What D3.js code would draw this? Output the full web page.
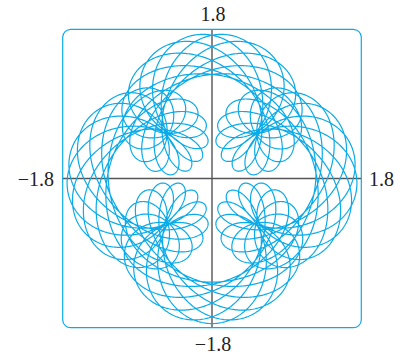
<!DOCTYPE html>
<html>
<head>
<meta charset="utf-8">
<script src="https://cdn.jsdelivr.net/npm/d3@7"></script>
<style>
  body { margin: 0; background: #fff; }
  svg { display: block; }
  text { font-family: 'Liberation Serif', 'Times New Roman', Times, serif; }
</style>
</head>
<body>
<svg id="chart" width="409" height="359"></svg>
<script>
// curve: x = sin t + 1/2 sin 5t + 1/4 cos 2.3t
//        y = cos t + 1/2 cos 5t + 1/4 sin 2.3t
const xAmp = [1, 0.5, 0.25];
const xFreq = [1, 5, 2.3];
const xFn = ['sin', 'sin', 'cos'];
const yAmp = [1, 0.5, 0.25];
const yFreq = [1, 5, 2.3];
const yFn = ['cos', 'cos', 'sin'];
const tRange = [0, 20 * Math.PI];
const steps = 12000;

const viewRange = [-1.8, 1.8];
const tickLabels = ['\u22121.8', '1.8'];

const svg = d3.select('#chart');

const x = d3.scaleLinear().domain(viewRange).range([62.7, 361.3]);
const y = d3.scaleLinear().domain(viewRange).range([327.7, 29.3]);

const curveColor = '#0aabe8';

// sample the parametric curve
const ts = d3.range(steps + 1).map(i => tRange[0] + (tRange[1] - tRange[0]) * i / steps);
const pts = ts.map(t => {
  let px = 0, py = 0;
  for (let k = 0; k < xAmp.length; k++) px += xAmp[k] * Math[xFn[k]](xFreq[k] * t);
  for (let k = 0; k < yAmp.length; k++) py += yAmp[k] * Math[yFn[k]](yFreq[k] * t);
  return [px, py];
});

// axes
svg.append('line')
  .attr('x1', x(viewRange[0])).attr('x2', x(viewRange[1]))
  .attr('y1', y(0)).attr('y2', y(0))
  .attr('stroke', '#555').attr('stroke-width', 1.4);
svg.append('line')
  .attr('x1', x(0)).attr('x2', x(0))
  .attr('y1', y(viewRange[0])).attr('y2', y(viewRange[1]))
  .attr('stroke', '#555').attr('stroke-width', 1.4);

// curve
const line = d3.line().x(d => x(d[0])).y(d => y(d[1]));
svg.append('path')
  .datum(pts)
  .attr('d', line)
  .attr('fill', 'none')
  .attr('stroke', curveColor)
  .attr('stroke-width', 1.2);

// frame
svg.append('rect')
  .attr('x', x(viewRange[0])).attr('y', y(viewRange[1]))
  .attr('width', x(viewRange[1]) - x(viewRange[0]))
  .attr('height', y(viewRange[0]) - y(viewRange[1]))
  .attr('rx', 8).attr('ry', 8)
  .attr('fill', 'none')
  .attr('stroke', curveColor)
  .attr('stroke-width', 1.2);

// labels
const label = (tx, ty, anchor, txt) => svg.append('text')
  .attr('x', tx).attr('y', ty)
  .attr('text-anchor', anchor)
  .attr('font-family', "'Liberation Serif', 'Times New Roman', serif")
  .attr('font-size', 20)
  .attr('fill', '#222')
  .text(txt);

label(x(0) + 1, 21, 'middle', tickLabels[1]);
label(x(0) + 1, 351, 'middle', tickLabels[0]);
label(54, y(0) + 7, 'end', tickLabels[0]);
label(369, y(0) + 7, 'start', tickLabels[1]);
</script>
</body>
</html>
